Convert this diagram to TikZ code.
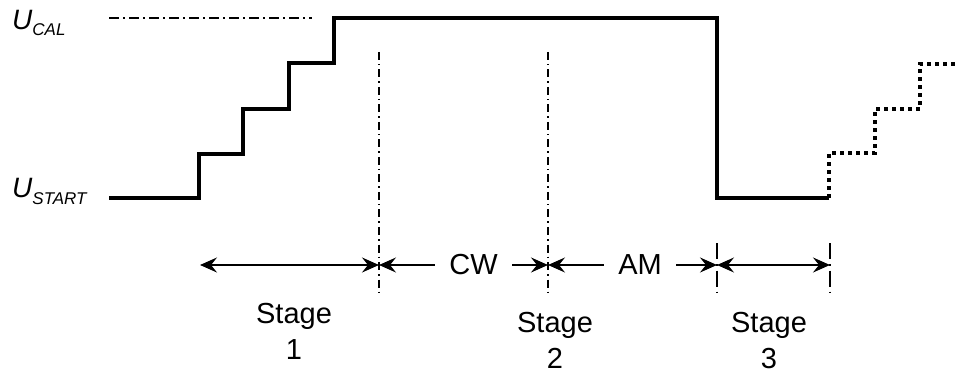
\documentclass[tikz,border=0pt]{standalone}
\usepackage{fontspec}
\setmainfont{Liberation Sans}
\usetikzlibrary{positioning, arrows.meta, calc}

\begin{document}
\begin{tikzpicture}[
        x=1pt, y=-1pt,
        signal/.style={line width=3.6pt, line join=miter},
        future/.style={line width=3.6pt, dash pattern=on 3.6pt off 4.4pt},
        levelline/.style={line width=1.3pt, dash pattern=on 10pt off 4pt on 2pt off 4pt},
        markline/.style={line width=1.3pt, dash pattern=on 8pt off 4pt on 1.5pt off 4pt},
        longmarkline/.style={line width=1.3pt, dash pattern=on 16pt off 5pt on 1.5pt off 5pt},
        stagespan/.style={arrows={Stealth[length=17pt, width=15pt, inset=6pt]-Stealth[length=17pt, width=15pt, inset=6pt]}, line width=1.4pt},
        levellabel/.style={font=\fontsize{28}{30}\selectfont\itshape, anchor=base west, inner sep=0pt},
        stagelabel/.style={font=\fontsize{29}{36}\selectfont, align=center, inner sep=0pt, anchor=base},
        spanlabel/.style={font=\fontsize{29}{30}\selectfont, fill=white, inner xsep=14pt, inner ysep=2pt}
        ]
        \useasboundingbox (0,0) rectangle (958,374);

        % Voltage levels
        \node[levellabel] (ucal) at (12,30) {U\raisebox{-6pt}{\fontsize{17}{17}\selectfont CAL}};
        \node[levellabel] (ustart) at (12,197) {U\raisebox{-7pt}{\fontsize{17}{17}\selectfont START}};
        \coordinate (calA) at (109,18);
        \coordinate (calB) at (312,18);
        \draw[levelline] (calA) -- (calB);

        % Ramp, hold and drop
        \coordinate (s0) at (109,198);
        \coordinate (top) at (334,18);
        \coordinate (drop) at (717,198);
        \coordinate (s1) at (829,198);
        \draw[signal] (s0) -| (199,154) -| (243,109) -| (289,63) -| (top) -| (drop) -- (s1);

        % Next ramp (dotted)
        \draw[future] (s1) |- (875,153) |- (920,109) |- (958,64);

        % Stage borders
        \foreach \x/\name in {379/m1, 548/m2} {
            \coordinate (\name top) at (\x,52);
            \coordinate (\name bot) at (\x,293);
            \coordinate (\name) at (\x,265);
            \draw[markline] (\name top) -- (\name bot);
        }
        \foreach \x/\name in {717/m3, 830/m4} {
            \coordinate (\name top) at (\x,243);
            \coordinate (\name bot) at (\x,293);
            \coordinate (\name) at (\x,265);
            \draw[longmarkline] (\name top) -- (\name bot);
        }
        \coordinate (m0) at (200,265);

        % Durations
        \draw[stagespan] (m0) -- (m1);
        \draw[stagespan] (m1) -- node[spanlabel, pos=0.56] (cw) {CW} (m2);
        \draw[stagespan] (m2) -- node[spanlabel, pos=0.545] (am) {AM} (m3);
        \draw[stagespan] (m3) -- (m4);

        % Stage names (base = last line)
        \node[stagelabel] (stage1) at (294,359) {Stage\\1};
        \node[stagelabel] (stage2) at (555,368) {Stage\\2};
        \node[stagelabel] (stage3) at (769,368) {Stage\\3};

    \end{tikzpicture}
\end{document}
